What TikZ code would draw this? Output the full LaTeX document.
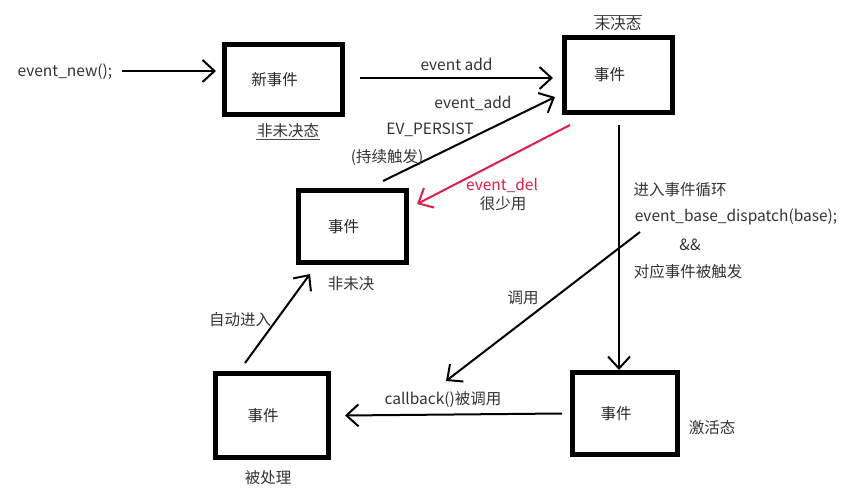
\documentclass[tikz,border=0pt]{standalone}
\usepackage{fontspec}
\setmainfont{Noto Sans CJK SC}
\usetikzlibrary{arrows.meta}

\begin{document}
\begin{tikzpicture}[x=1pt,y=-1pt,
    font=\fontsize{15.5}{17}\selectfont,
    evbox/.style={draw,line width=5pt,minimum width=#1,text=black!85,
        execute at end node={\hspace*{18pt}}},
    conn/.style={line width=2pt,-{Straight Barb[length=12pt,width=22pt,line width=2pt]}},
    lbl/.style={inner sep=1pt,text=black!80}]

    % 画布大小
    \useasboundingbox (0,0) rectangle (856,494);
    \definecolor{delred}{RGB}{222,30,70}

    % 五个状态框
    \node[evbox=118pt,minimum height=70pt] (newev) at (283.5,79.5) {新事件};
    \node[evbox=108pt,minimum height=75pt] (pend) at (618.5,75) {事件};
    \node[evbox=108pt,minimum height=72pt] (nonpend) at (352.5,226.5) {事件};
    \node[evbox=113pt,minimum height=84pt] (done) at (272,415.5) {事件};
    \node[evbox=105pt,minimum height=82pt] (active) at (625,413.5) {事件};

    % 状态说明
    \node[lbl] (newstate) at (288,131) {非未决态};
    \draw[line width=0.6pt,black!70] (newstate.south west) -- (newstate.south east);
    \node[lbl] (pendstate) at (618,24) {未决态};
    \draw[line width=0.6pt,black!70] (pendstate.north west) -- (pendstate.north east);
    \node[lbl] (nonstate) at (351,284) {非未决};
    \node[lbl] (donestate) at (268,478) {被处理};
    \node[lbl] (actstate) at (712,428) {激活态};

    % 入口
    \node[lbl] (evnew) at (65,72) {event\_new();};
    \coordinate (a0) at (122,71);
    \draw[conn] (a0) -- ([xshift=-6pt]newev.west |- a0);

    % event_add
    \coordinate (a1) at (360,78);
    \coordinate (a2) at (553,78);
    \draw[conn] (a1) -- (a2) node[lbl,midway,above=5pt] {event add};

    % EV_PERSIST
    \coordinate (p1) at (383,181);
    \coordinate (p2) at (555,97);
    \draw[conn] (p1) -- (p2);
    \node[lbl] at (473,103) {event\_add};
    \node[lbl] at (430,130) {EV\_PERSIST};
    \node[lbl] at (387,157) {(持续触发)};

    % event_del
    \coordinate (d1) at (570,125);
    \coordinate (d2) at (417,204);
    \draw[conn,delred] (d1) -- (d2);
    \node[lbl,text=delred] at (502,185) {event\_del};
    \node[lbl] at (503,204) {很少用};

    % 进入事件循环
    \coordinate (e1) at (619,125);
    \draw[conn] (e1) -- (active.north -| e1);
    \node[lbl] (loop1) at (680,190) {进入事件循环};
    \node[lbl] (loop2) at (736,217) {event\_base\_dispatch(base);};
    \node[lbl] (loop3) at (690,245) {\&\&};
    \node[lbl] (loop4) at (688,272) {对应事件被触发};

    % 调用
    \coordinate (c1) at (640,232);
    \coordinate (c2) at (446,381);
    \draw[conn] (c1) -- (c2);
    \node[lbl] at (523,298) {调用};

    % callback
    \draw[conn] (active.west) ++(-8,0) coordinate (b1) (b1) -- ([xshift=14pt]done.east);
    \node[lbl] at (443,400) {callback()被调用};

    % 自动进入
    \coordinate (u1) at (245,363);
    \coordinate (u2) at (310,274);
    \draw[conn] (u1) -- (u2);
    \node[lbl] at (240,320) {自动进入};
\end{tikzpicture}
\end{document}
